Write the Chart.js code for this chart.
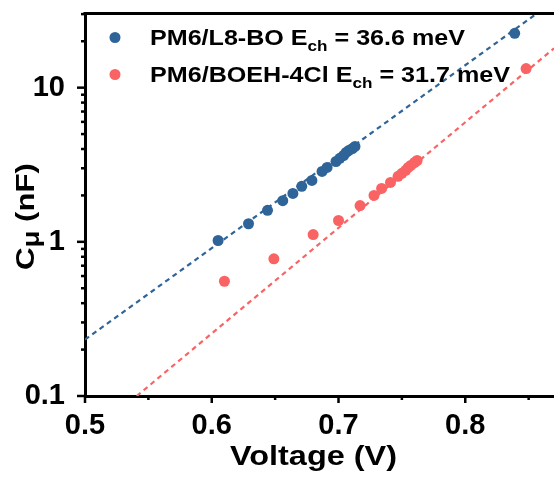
<!DOCTYPE html>
<html>
<head>
<meta charset="utf-8">
<script src="https://cdn.jsdelivr.net/npm/chart.js@4/dist/chart.umd.min.js"></script>
<style>
  html, body { margin: 0; padding: 0; background: #fff; overflow: hidden; }
  #wrap { width: 554px; height: 477px; position: relative; }
</style>
</head>
<body>
<div id="wrap"><canvas id="chart" width="554" height="477"></canvas></div>
<script>
// Chemical capacitance vs. applied voltage
const l8boVoltage = [0.605, 0.629, 0.644, 0.656, 0.664, 0.671, 0.679, 0.687, 0.691, 0.698, 0.701, 0.704, 0.706, 0.708, 0.711, 0.713, 0.839];
const l8boCap     = [1.02, 1.31, 1.60, 1.85, 2.06, 2.29, 2.50, 2.86, 3.04, 3.32, 3.48, 3.63, 3.80, 3.91, 4.03, 4.16, 22.5];
const boehVoltage = [0.610, 0.649, 0.680, 0.700, 0.717, 0.728, 0.734, 0.741, 0.747, 0.750, 0.753, 0.755, 0.757, 0.760, 0.762, 0.848];
const boehCap     = [0.555, 0.776, 1.115, 1.375, 1.72, 2.00, 2.22, 2.43, 2.66, 2.78, 2.91, 3.04, 3.13, 3.27, 3.37, 13.3];

// Exponential fits (straight on the log axis), given by their end points
const l8boFitVoltage = [0.5, 0.87];
const l8boFitCap     = [0.232, 36.4];
const boehFitVoltage = [0.5408, 0.87];
const boehFitCap     = [0.1, 18.0];

const seriesNames = ['PM6/L8-BO', 'PM6/BOEH-4Cl'];
const echValues   = ['36.6', '31.7'];

const xTickValues  = [0.5, 0.6, 0.7, 0.8];
const xMinorValues = [0.55, 0.65, 0.75, 0.85];
const yTickValues  = [0.1, 1, 10];
const yMinorValues = [0.2, 0.3, 0.4, 0.5, 0.6, 0.7, 0.8, 0.9, 2, 3, 4, 5, 6, 7, 8, 9, 20, 30];

const BLUE = '#2f6499';
const RED  = '#fa6363';
const FONT = '"Liberation Sans", Arial, Helvetica, sans-serif';

const toPoints = (xs, ys) => xs.map((v, i) => ({ x: v, y: ys[i] }));

// Draw a run of text pieces (with sub-scripts), optionally stretched to a width
function drawRich(ctx, parts, x, baseline, targetWidth) {
  let total = 0;
  parts.forEach(p => {
    ctx.font = `bold ${p.size}px ${FONT}`;
    p.w = ctx.measureText(p.t).width;
    total += p.w;
  });
  const sx = targetWidth ? targetWidth / total : 1;
  ctx.save();
  ctx.translate(x, baseline);
  ctx.scale(sx, 1);
  ctx.textBaseline = 'alphabetic';
  ctx.textAlign = 'left';
  let cx = 0;
  parts.forEach(p => {
    ctx.font = `bold ${p.size}px ${FONT}`;
    ctx.fillText(p.t, cx, p.dy || 0);
    cx += p.w;
  });
  ctx.restore();
}

const decorations = {
  id: 'decorations',
  afterDraw(chart) {
    const { ctx, chartArea: a, scales: { x, y } } = chart;
    ctx.save();
    ctx.strokeStyle = '#000';
    ctx.fillStyle = '#000';

    // top frame line
    ctx.lineWidth = 3;
    ctx.beginPath();
    ctx.moveTo(a.left - 1.5, a.top + 0.5);
    ctx.lineTo(a.right, a.top + 0.5);
    ctx.stroke();

    // outward tick marks
    ctx.lineWidth = 2.5;
    const seg = (x1, y1, x2, y2) => { ctx.beginPath(); ctx.moveTo(x1, y1); ctx.lineTo(x2, y2); ctx.stroke(); };
    xTickValues.forEach(v => { const p = x.getPixelForValue(v); seg(p, a.bottom, p, a.bottom + 7); });
    xMinorValues.forEach(v => { const p = x.getPixelForValue(v); seg(p, a.bottom, p, a.bottom + 4); });
    yTickValues.forEach(v => { const p = y.getPixelForValue(v); seg(a.left, p, a.left - 8, p); });
    yMinorValues.forEach(v => { const p = y.getPixelForValue(v); seg(a.left, p, a.left - 4, p); });

    // legend
    const colors = [BLUE, RED];
    const rows = [37.5, 74.5];
    const widths = [315, 360];
    seriesNames.forEach((name, i) => {
      ctx.fillStyle = colors[i];
      ctx.beginPath();
      ctx.arc(115, rows[i], 5.5, 0, Math.PI * 2);
      ctx.fill();
      ctx.fillStyle = '#000';
      drawRich(ctx, [
        { t: name + ' E', size: 22 },
        { t: 'ch', size: 15, dy: 6 },
        { t: ' = ' + echValues[i] + ' meV', size: 22 }
      ], 150, rows[i] + 7, widths[i]);
    });

    // axis titles
    drawRich(ctx, [{ t: 'Voltage (V)', size: 28 }], 230, 465, 167);
    ctx.save();
    ctx.translate(34, 270);
    ctx.rotate(-Math.PI / 2);
    drawRich(ctx, [
      { t: 'C', size: 26 },
      { t: 'μ', size: 23, dy: 5 },
      { t: ' (nF)', size: 26 }
    ], 0, 0, 107);
    ctx.restore();

    ctx.restore();
  }
};

new Chart(document.getElementById('chart'), {
  type: 'scatter',
  data: {
    datasets: [
      {
        label: seriesNames[0],
        data: toPoints(l8boVoltage, l8boCap),
        backgroundColor: BLUE,
        borderWidth: 0,
        pointRadius: 5.5,
        pointHoverRadius: 5.5,
        order: 1
      },
      {
        label: seriesNames[1],
        data: toPoints(boehVoltage, boehCap),
        backgroundColor: RED,
        borderWidth: 0,
        pointRadius: 5.5,
        pointHoverRadius: 5.5,
        order: 1
      },
      {
        label: seriesNames[0] + ' fit',
        data: toPoints(l8boFitVoltage, l8boFitCap),
        showLine: true,
        borderColor: BLUE,
        borderWidth: 2.2,
        borderDash: [5, 4],
        pointRadius: 0,
        clip: 0,
        order: 2
      },
      {
        label: seriesNames[1] + ' fit',
        data: toPoints(boehFitVoltage, boehFitCap),
        showLine: true,
        borderColor: RED,
        borderWidth: 2.2,
        borderDash: [5, 4],
        pointRadius: 0,
        clip: 0,
        order: 2
      }
    ]
  },
  options: {
    responsive: false,
    animation: false,
    events: [],
    layout: { autoPadding: false, padding: { top: 13, right: 0, left: 0, bottom: 0 } },
    plugins: { legend: { display: false }, tooltip: { enabled: false } },
    scales: {
      x: {
        type: 'linear',
        min: 0.5,
        max: 0.87,
        grid: { display: false },
        border: { display: true, color: '#000', width: 3 },
        afterBuildTicks: s => { s.ticks = xTickValues.map(v => ({ value: v })); },
        afterFit: s => { s.height = 81; s.paddingLeft = 0; s.paddingRight = 0; },
        ticks: {
          color: '#000',
          padding: 5,
          font: { family: FONT, size: 29, weight: 'bold' },
          callback: v => Number(v).toFixed(1)
        }
      },
      y: {
        type: 'logarithmic',
        min: 0.1,
        max: 30.5,
        grid: { display: false },
        border: { display: true, color: '#000', width: 3 },
        afterBuildTicks: s => { s.ticks = yTickValues.map(v => ({ value: v })); },
        afterFit: s => { s.width = 85; s.paddingTop = 0; s.paddingBottom = 0; },
        ticks: {
          color: '#000',
          padding: 12,
          font: { family: FONT, size: 29, weight: 'bold' },
          callback: v => String(v)
        }
      }
    }
  },
  plugins: [decorations]
});
</script>
</body>
</html>
